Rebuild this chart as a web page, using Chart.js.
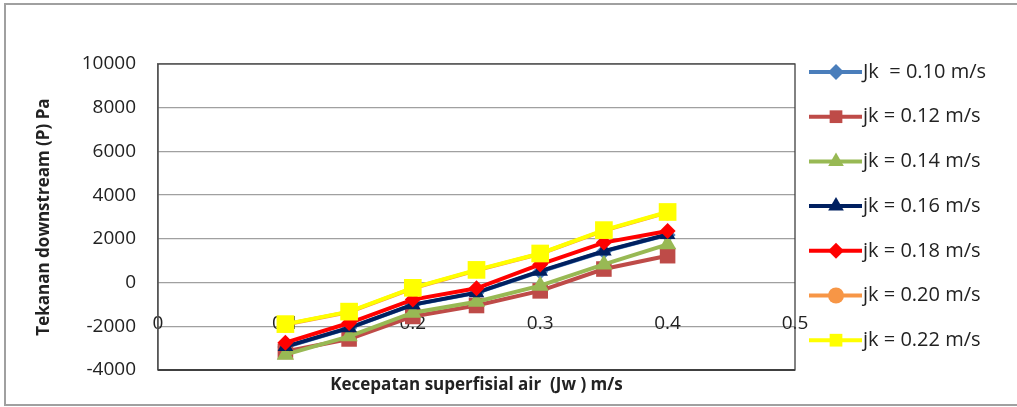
<!DOCTYPE html>
<html>
<head>
<meta charset="utf-8">
<script src="https://cdn.jsdelivr.net/npm/chart.js@4.4.1/dist/chart.umd.min.js"></script>
<style>
  html, body { margin: 0; padding: 0; background: #fff; overflow: hidden; }
  #wrap { position: relative; width: 1017px; height: 407px; }
</style>
</head>
<body>
<div id="wrap"><canvas id="chart" width="1017" height="407"></canvas></div>
<script>
// superficial water velocity (x)
const jw = [0.1, 0.15, 0.2, 0.25, 0.3, 0.35, 0.4];
const xTicks = [0, 0.1, 0.2, 0.3, 0.4, 0.5];
const yTicks = [-4000, -2000, 0, 2000, 4000, 6000, 8000, 10000];

const seriesNames = ["Jk  = 0.10 m/s", "jk = 0.12 m/s", "jk = 0.14 m/s", "jk = 0.16 m/s",
                     "jk = 0.18 m/s", "jk = 0.20 m/s", "jk = 0.22 m/s"];

// downstream pressure, Pa
const jk010 = [-2950, -2080, -1020, -470, 500, 1420, 2180];
const jk012 = [-3150, -2580, -1550, -1050, -380, 620, 1230];
const jk014 = [-3300, -2460, -1380, -880, -140, 830, 1750];
const jk016 = [-2930, -2070, -1010, -460, 520, 1440, 2200];
const jk018 = [-2750, -1850, -780, -260, 830, 1830, 2360];
const jk020 = [-1920, -1350, -260, 560, 1320, 2380, 3210];
const jk022 = [-1900, -1330, -240, 580, 1330, 2400, 3230];

const seriesValues = [jk010, jk012, jk014, jk016, jk018, jk020, jk022];
const colors = ["#4a7ebb", "#be4b48", "#98b954", "#002060", "#ff0000", "#f79646", "#ffff00"];
const markers = ["rectRot", "rect", "triangle", "triangle", "rectRot", "circle", "rect"];
const radii = [8, 11, 10, 9, 8, 8, 12.5];

const datasets = seriesValues.map((vals, i) => ({
  label: seriesNames[i],
  data: jw.map((x, k) => ({ x: x, y: vals[k] })),
  borderColor: colors[i],
  backgroundColor: colors[i],
  borderWidth: 4,
  pointStyle: markers[i],
  pointRadius: radii[i],
  pointBorderWidth: 0,
  pointBackgroundColor: colors[i],
  order: seriesValues.length - i,
  tension: 0
}));

// outer frame and plot frame
const framePlugin = {
  id: "frames",
  beforeDraw(chart) {
    const ctx = chart.ctx;
    ctx.save();
    ctx.fillStyle = "#fff";
    ctx.fillRect(0, 0, chart.width, chart.height);
    ctx.strokeStyle = "#a0a0a0";
    ctx.lineWidth = 2;
    ctx.strokeRect(5, 4, chart.width + 10, chart.height - 6);
    ctx.restore();
  },
  beforeDatasetsDraw(chart) {
    const { ctx, chartArea: a } = chart;
    ctx.save();
    ctx.strokeStyle = "#404040";
    ctx.lineWidth = 1.3;
    ctx.strokeRect(a.left, a.top, a.right - a.left, a.bottom - a.top);
    ctx.lineWidth = 2;
    ctx.beginPath();
    ctx.moveTo(a.left, a.bottom);
    ctx.lineTo(a.right, a.bottom);
    ctx.stroke();
    ctx.restore();
  }
};

function drawMarker(ctx, style, x, y, r) {
  ctx.beginPath();
  if (style === "rect") {
    const s = r * Math.SQRT1_2;
    ctx.rect(x - s, y - s, 2 * s, 2 * s);
  } else if (style === "rectRot") {
    ctx.moveTo(x, y - r); ctx.lineTo(x + r, y); ctx.lineTo(x, y + r); ctx.lineTo(x - r, y);
    ctx.closePath();
  } else if (style === "triangle") {
    ctx.moveTo(x, y - r); ctx.lineTo(x + r * 0.87, y + r * 0.5); ctx.lineTo(x - r * 0.87, y + r * 0.5);
    ctx.closePath();
  } else {
    ctx.arc(x, y, r, 0, Math.PI * 2);
  }
  ctx.fill();
}

const legendPlugin = {
  id: "sideLegend",
  afterDraw(chart) {
    const { ctx, chartArea: a } = chart;
    const x0 = a.right + 14;
    ctx.save();
    ctx.font = "20px 'Open Sans'";
    ctx.textBaseline = "middle";
    chart.data.datasets.forEach((ds, i) => {
      const y = 72 + i * 44.7;
      ctx.strokeStyle = ds.borderColor;
      ctx.fillStyle = ds.borderColor;
      ctx.lineWidth = 4;
      ctx.beginPath();
      ctx.moveTo(x0, y);
      ctx.lineTo(x0 + 53, y);
      ctx.stroke();
      drawMarker(ctx, ds.pointStyle, x0 + 27, y, Math.min(ds.pointRadius, 9));
      ctx.fillStyle = "#222";
      ctx.fillText(ds.label, x0 + 54, y);
    });
    ctx.restore();
  }
};

const tickFont = { family: "'Open Sans'", size: 19 };
const titleFont = { family: "'Open Sans'", size: 17, weight: "bold" };

new Chart(document.getElementById("chart"), {
  type: "line",
  data: { datasets: datasets },
  plugins: [framePlugin, legendPlugin],
  options: {
    responsive: false,
    animation: false,
    devicePixelRatio: 1,
    layout: { padding: { left: 0, top: 64, right: 1017 - 795, bottom: 0 } },
    plugins: { legend: { display: false }, tooltip: { enabled: false } },
    scales: {
      // value axis crosses the y axis at -2000, as in the original; labels sit over the lines
      x: {
        type: "linear",
        position: { y: -2000 },
        z: 1,
        min: 0,
        max: 0.5,
        afterBuildTicks: s => { s.ticks = xTicks.map(v => ({ value: v })); },
        grid: { display: false, drawTicks: false },
        border: { display: false },
        ticks: {
          padding: -14,
          color: "#222",
          font: tickFont,
          maxRotation: 0,
          callback: v => String(v)
        }
      },
      // bottom axis only carries the title
      xTitle: {
        type: "linear",
        axis: "x",
        position: "bottom",
        min: 0,
        max: 0.5,
        afterFit: s => { s.height = 37; },
        grid: { display: false, drawTicks: false },
        border: { display: false },
        ticks: { display: false },
        title: {
          display: true,
          text: "Kecepatan superfisial air  (Jw ) m/s",
          color: "#222",
          font: titleFont,
          padding: { top: 0, bottom: 12 }
        }
      },
      y: {
        min: -4000,
        max: 10000,
        afterBuildTicks: s => { s.ticks = yTicks.map(v => ({ value: v })); },
        afterFit: s => { s.width = 158; },
        grid: { color: "#a0a0a0", lineWidth: 1.3, drawTicks: false },
        border: { display: true, color: "#808080", width: 1.3 },
        ticks: {
          padding: 22,
          color: "#222",
          font: tickFont,
          callback: v => String(v)
        },
        title: {
          display: true,
          text: "Tekanan downstream (P) Pa",
          color: "#222",
          font: titleFont,
          padding: { top: 34, bottom: 0 }
        }
      }
    }
  }
});
</script>
</body>
</html>
